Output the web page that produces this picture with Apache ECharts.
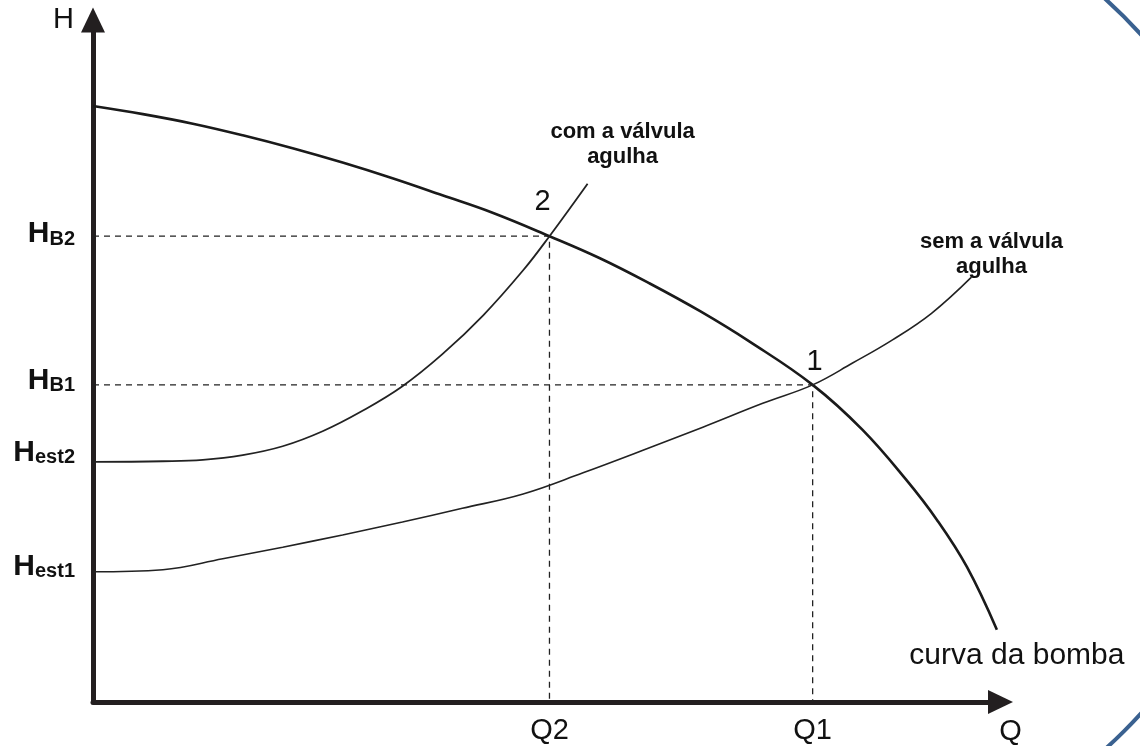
<!DOCTYPE html>
<html>
<head>
<meta charset="utf-8">
<title>Curva da bomba e curvas do sistema</title>
<script src="https://cdn.jsdelivr.net/npm/echarts@6/dist/echarts.min.js"></script>
<style>
  html, body { margin: 0; padding: 0; background: #ffffff; }
  #chart { width: 1140px; height: 746px; }
</style>
</head>
<body>
<div id="chart"></div>
<script>
// Pump characteristic curve (Q, H) in relative units
const pumpQ = [0, 5.5, 11.0, 16.5, 22.0, 27.5, 33.0, 38.5, 44.1, 50.3, 55.8, 61.3, 66.9, 72.4, 79.3, 84.8, 89.6, 93.0, 96.3, 99.6];
const pumpH = [87.4, 86.2, 84.8, 83.1, 81.2, 79.1, 76.8, 74.3, 71.7, 68.3, 65.1, 61.4, 57.3, 52.8, 46.5, 39.9, 32.6, 26.7, 19.8, 10.6];

// System curve with the needle valve
const valveQ = [0, 7.7, 12.1, 16.5, 20.9, 25.3, 29.7, 34.1, 38.5, 43.0, 47.4, 50.3, 54.5];
const valveH = [35.2, 35.3, 35.5, 36.2, 37.5, 39.7, 42.7, 46.3, 51.0, 56.7, 63.3, 68.3, 76.0];

// System curve without the needle valve
const openQ = [0, 7.7, 14.3, 20.9, 27.5, 34.1, 40.7, 47.4, 54.0, 60.6, 67.2, 73.8, 79.3, 83.7, 88.1, 92.4, 96.8];
const openH = [19.1, 19.4, 21.0, 22.7, 24.5, 26.4, 28.4, 30.5, 33.6, 36.9, 40.3, 43.8, 46.5, 49.7, 53.1, 57.0, 62.3];

// Operating points (intersections) and their labels
const pointNames = ['2', '1'];
const pointQ = [50.3, 79.3];
const pointH = [68.3, 46.5];

// Head levels marked on the H axis
const yTickNames = ['HB2', 'HB1', 'Hest2', 'Hest1'];
const yTickValues = [68.3, 46.5, 35.2, 19.1];

// Flow rates marked on the Q axis
const xTickNames = ['Q2', 'Q1'];
const xTickValues = [50.3, 79.3];

const curveNames = ['curva da bomba', 'com a válvula\nagulha', 'sem a válvula\nagulha'];

const FONT = '"Liberation Sans", Arial, Helvetica, sans-serif';
const INK = '#111111';

const zip = (xs, ys) => xs.map((x, i) => [x, ys[i]]);

// label nudges for each axis mark / point
const yLabelShift = [-2, -4, -9, -5];
const pointLabelOffset = [[-7, -34], [2, -23]];

const chart = echarts.init(document.getElementById('chart'), null, { renderer: 'canvas' });

const axisLineStyle = { color: '#231f20', width: 5 };

const option = {
  backgroundColor: '#ffffff',
  animation: false,
  grid: { left: 93, right: 139.5, top: 20, bottom: 44, containLabel: false, outerBoundsMode: 'none' },
  xAxis: {
    type: 'value', min: 0, max: 100,
    name: 'Q', nameLocation: 'end', nameGap: 10,
    nameTextStyle: { fontFamily: FONT, fontSize: 29, color: INK, align: 'center', verticalAlign: 'top', padding: [15, 0, 0, 0] },
    axisLine: { show: true, onZero: false, symbol: ['none', 'triangle'], symbolSize: [24, 25], lineStyle: axisLineStyle },
    axisTick: { show: false }, axisLabel: { show: false }, splitLine: { show: false }
  },
  yAxis: {
    type: 'value', min: 0, max: 100,
    name: 'H', nameLocation: 'end', nameGap: 0,
    nameTextStyle: { fontFamily: FONT, fontSize: 29, color: INK, align: 'right', verticalAlign: 'middle', padding: [0, 19, 0, 0] },
    axisLine: { show: true, symbol: ['none', 'triangle'], symbolSize: [24, 25], lineStyle: axisLineStyle },
    axisTick: { show: false }, axisLabel: { show: false }, splitLine: { show: false }
  },
  graphic: [{
    type: 'arc', silent: true, z: 100,
    shape: { cx: 767, cy: 374, r: 505, startAngle: -Math.PI / 3, endAngle: Math.PI / 3 },
    style: { stroke: '#3a6190', lineWidth: 4, fill: 'none' }
  }],
  series: [
    // dashed guides from each operating point to both axes
    ...pointQ.map((q, i) => ({
      type: 'line', silent: true, symbol: 'none', z: 1,
      data: [[0, pointH[i]], [q, pointH[i]], [q, 0]],
      lineStyle: { color: '#222', width: 1.3, type: [6, 5] }
    })),
    {
      name: curveNames[0], type: 'line', symbol: 'none', smooth: 0.4, z: 3,
      data: zip(pumpQ, pumpH),
      lineStyle: { color: '#1a1a1a', width: 2.6 },
      endLabel: { show: true, formatter: curveNames[0], fontFamily: FONT, fontSize: 30, color: INK, align: 'center', verticalAlign: 'middle', offset: [12, 26] }
    },
    {
      name: curveNames[1], type: 'line', symbol: 'none', smooth: 0.4, z: 3,
      data: zip(valveQ, valveH),
      lineStyle: { color: '#222', width: 1.8 },
      endLabel: { show: true, formatter: curveNames[1], fontFamily: FONT, fontSize: 22, fontWeight: 'bold', lineHeight: 25, color: INK, align: 'center', verticalAlign: 'middle', offset: [27, -39] }
    },
    {
      name: curveNames[2], type: 'line', symbol: 'none', smooth: 0.4, z: 3,
      data: zip(openQ, openH),
      lineStyle: { color: '#222', width: 1.6 },
      endLabel: { show: true, formatter: curveNames[2], fontFamily: FONT, fontSize: 22, fontWeight: 'bold', lineHeight: 25, color: INK, align: 'center', verticalAlign: 'middle', offset: [12, -23] }
    },
    // operating point numbers
    {
      type: 'scatter', symbolSize: 0, silent: true, z: 4, itemStyle: { opacity: 1 },
      data: pointNames.map((n, i) => ({
        value: [pointQ[i], pointH[i]], name: n,
        label: { show: true, formatter: n, position: 'inside', offset: pointLabelOffset[i], fontFamily: FONT, fontSize: 29, color: INK }
      }))
    },
    // H axis marks
    {
      type: 'scatter', symbolSize: 0, silent: true, z: 4, itemStyle: { opacity: 1 },
      data: yTickNames.map((n, i) => ({
        value: [0, yTickValues[i]], name: n,
        label: {
          show: true, position: 'left', distance: 18, offset: [0, yLabelShift[i]],
          formatter: '{big|' + n.charAt(0) + '}{sub|' + n.slice(1) + '}',
          rich: {
            big: { fontFamily: FONT, fontSize: 30, fontWeight: 'bold', color: INK, verticalAlign: 'bottom', lineHeight: 30 },
            sub: { fontFamily: FONT, fontSize: 20, fontWeight: 'bold', color: INK, verticalAlign: 'bottom', lineHeight: 22 }
          }
        }
      }))
    },
    // Q axis marks
    {
      type: 'scatter', symbolSize: 0, silent: true, z: 4, itemStyle: { opacity: 1 },
      data: xTickNames.map((n, i) => ({
        value: [xTickValues[i], 0], name: n,
        label: { show: true, formatter: n, position: 'bottom', distance: 14, fontFamily: FONT, fontSize: 29, color: INK }
      }))
    }
  ]
};

chart.setOption(option);
</script>
</body>
</html>
